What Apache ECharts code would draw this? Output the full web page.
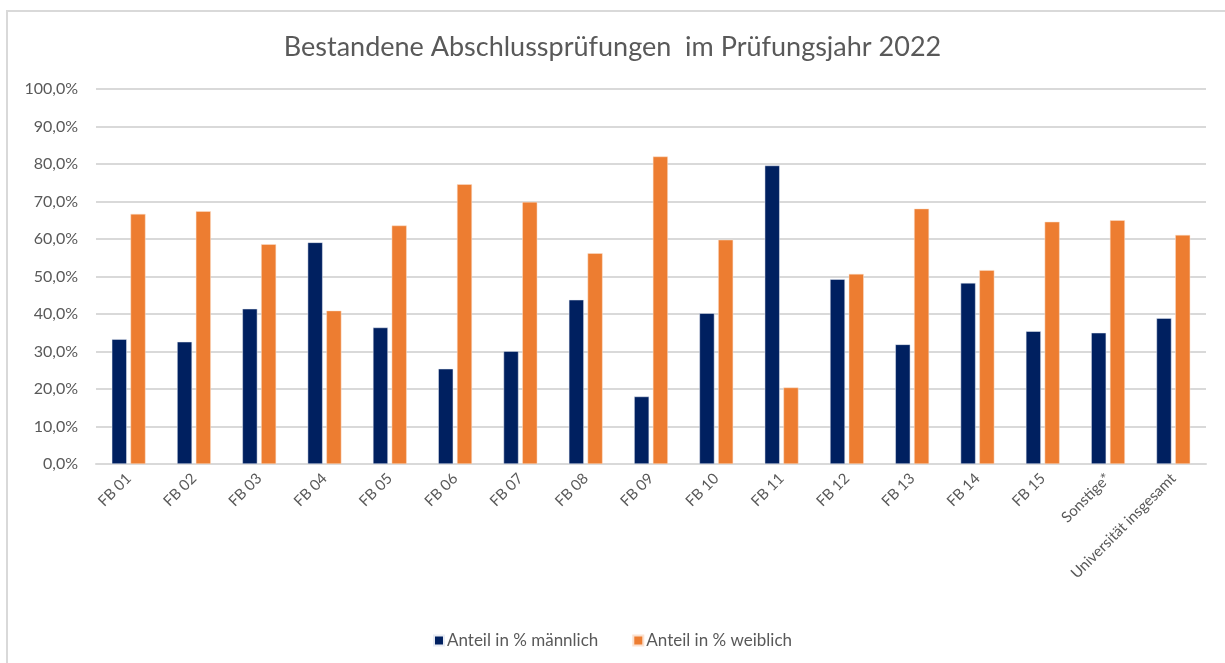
<!DOCTYPE html>
<html>
<head>
    <meta charset="utf-8">
    <title>Abschlussprüfungen 2022</title>
    <script src="https://cdn.jsdelivr.net/npm/echarts@6/dist/echarts.min.js"></script>
    <style>
        body, html {
            margin: 0;
            height: 100%;
            background: #fff;
        }

        #frame {
            position: absolute;
            left: 6px;
            top: 10px;
            right: 0;
            bottom: 0;
            border-top: 2px solid #d9d9d9;
            border-left: 2px solid #d9d9d9;
        }

        #main {
            position: absolute;
            left: 0;
            top: 0;
            width: 1225px;
            height: 663px;
        }
    </style>
</head>
<body>
<div id="frame"></div>
<div id="main"></div>
<script type="text/javascript">
    var categories = ['FB 01', 'FB 02', 'FB 03', 'FB 04', 'FB 05', 'FB 06', 'FB 07', 'FB 08', 'FB 09',
        'FB 10', 'FB 11', 'FB 12', 'FB 13', 'FB 14', 'FB 15', 'Sonstige*', 'Universität insgesamt'];
    var maennlich = [33.3, 32.6, 41.4, 59.1, 36.4, 25.4, 30.1, 43.8, 18.0, 40.2, 79.6, 49.3, 31.9, 48.3, 35.4, 35.0, 38.9];
    var weiblich = [66.7, 67.4, 58.6, 40.9, 63.6, 74.6, 69.9, 56.2, 82.0, 59.8, 20.4, 50.7, 68.1, 51.7, 64.6, 65.0, 61.1];

    var myChart = echarts.init(document.getElementById('main'));

    var grey = '#595959';
    var font = 'Lato, "Open Sans", sans-serif';

    option = {
        animation: false,
        title: {
            text: 'Bestandene Abschlussprüfungen  im Prüfungsjahr 2022',
            left: 'center',
            top: 29,
            textStyle: {
                fontFamily: font,
                fontSize: 27,
                fontWeight: 'normal',
                color: grey
            }
        },
        legend: {
            data: ['Anteil in % männlich', 'Anteil in % weiblich'],
            bottom: 9,
            left: 'center',
            itemWidth: 10,
            itemHeight: 10,
            itemGap: 34,
            icon: 'rect',
            textStyle: {
                fontFamily: font,
                fontSize: 17,
                color: grey,
                padding: [0, 0, 0, -2]
            }
        },
        grid: {
            left: 96,
            right: 19,
            top: 89,
            bottom: 199,
            containLabel: false
        },
        xAxis: {
            type: 'category',
            data: categories,
            axisLine: {
                lineStyle: {color: '#d9d9d9', width: 2}
            },
            axisTick: {show: false},
            axisLabel: {
                interval: 0,
                rotate: 45,
                margin: 12,
                fontFamily: font,
                fontSize: 15,
                color: grey
            }
        },
        yAxis: {
            type: 'value',
            min: 0,
            max: 100,
            interval: 10,
            axisLine: {show: false},
            axisTick: {show: false},
            splitLine: {
                lineStyle: {color: '#d9d9d9', width: 2}
            },
            axisLabel: {
                margin: 18,
                fontFamily: font,
                fontSize: 16,
                color: grey,
                formatter: function (v) {
                    return v.toFixed(1).replace('.', ',') + '%';
                }
            }
        },
        series: [
            {
                name: 'Anteil in % männlich',
                type: 'bar',
                data: maennlich,
                barWidth: 15,
                barGap: '25%',
                itemStyle: {color: '#002060', borderColor: '#e8ecf4', borderWidth: 0.5}
            },
            {
                name: 'Anteil in % weiblich',
                type: 'bar',
                data: weiblich,
                barWidth: 15,
                barGap: '25%',
                itemStyle: {color: '#ed7d31', borderColor: '#fbe1cf', borderWidth: 0.5}
            }
        ]
    };

    myChart.setOption(option);
</script>
</body>
</html>
